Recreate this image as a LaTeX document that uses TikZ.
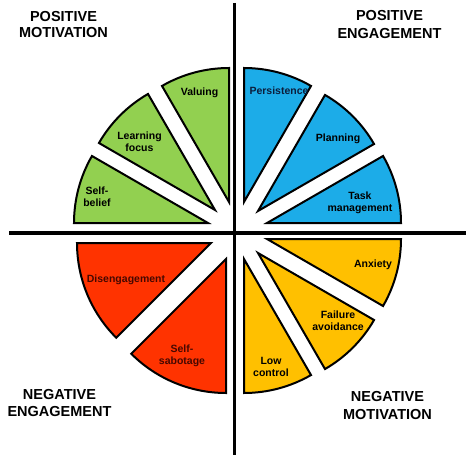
\documentclass[tikz,border=0pt]{standalone}
\usepackage{fontspec}
\setmainfont{Liberation Sans}
\definecolor{cgreen}{RGB}{146,208,80}
\definecolor{cblue}{RGB}{28,172,232}
\definecolor{cred}{RGB}{255,51,0}
\definecolor{corange}{RGB}{255,192,0}
\definecolor{tnavy}{RGB}{12,30,60}
\definecolor{tmaroon}{RGB}{70,8,0}
\newcommand\wedgeseg[6]{% name, colour, apex x, apex y, start, end
  \coordinate (#1) at (#3,#4);
  \filldraw[seg, fill=#2] (#1) -- ++(#5:134) arc[start angle=#5, end angle=#6, radius=134] -- cycle;}
\begin{document}
\begin{tikzpicture}[x=1pt,y=1pt,
  seg/.style={draw=black, line width=2pt, line join=miter},
  lab/.style={font=\bfseries\fontsize{10.5}{12}\selectfont, align=center, inner sep=0pt},
  head/.style={font=\bfseries\fontsize{14.5}{16.5}\selectfont, align=center, inner sep=0pt},
  axisline/.style={line width=3.3pt}]
\useasboundingbox (0,0) rectangle (474,459);
% axes
\coordinate (vtop) at (234.5,456);
\coordinate (vbot) at (234.5,4);
\coordinate (hl) at (9,226);
\coordinate (hr) at (466,226);
\draw[axisline] (vtop) -- (vbot);
\draw[axisline] (hl) -- (hr);
% green
\wedgeseg{valA}{cgreen}{229}{257}{90}{120}
\wedgeseg{lfA}{cgreen}{215}{249}{120}{150}
\wedgeseg{sbA}{cgreen}{208}{236}{150}{180}
% blue
\wedgeseg{peA}{cblue}{244}{257}{60}{90}
\wedgeseg{plA}{cblue}{258}{248}{30}{60}
\wedgeseg{tmA}{cblue}{267}{236}{0}{30}
% red
\wedgeseg{deA}{cred}{211}{216}{180}{225}
\wedgeseg{ssA}{cred}{226}{200}{225}{270}
% orange
\wedgeseg{lcA}{corange}{244}{200}{270}{300}
\wedgeseg{faA}{corange}{258}{206}{300}{330}
\wedgeseg{anA}{corange}{267}{220}{330}{360}
% labels
\node[lab] (val) at (199.5,366) {Valuing};
\node[lab] (lf) at (139.5,317.5) {Learning\\focus};
\node[lab] (sb) at (97,262) {Self-\\belief};
\node[lab, text=tnavy] (pe) at (279,368) {Persistence};
\node[lab] (pl) at (338,320) {Planning};
\node[lab] (tm) at (360,256) {Task\\management};
\node[lab, text=tmaroon] (de) at (126,179) {Disengagement};
\node[lab, text=tmaroon] (ss) at (182,103) {Self-\\sabotage};
\node[lab] (an) at (373,194) {Anxiety};
\node[lab] (fa) at (338,138) {Failure\\avoidance};
\node[lab] (lc) at (271,92) {Low\\control};
% headers
\node[head] (pm) at (63.5,434.5) {POSITIVE\\MOTIVATION};
\node[head, font=\bfseries\fontsize{14.5}{18}\selectfont] (pg) at (389.5,434.5) {POSITIVE\\ENGAGEMENT};
\node[head, font=\bfseries\fontsize{14.5}{17}\selectfont] (ng) at (59.5,55.5) {NEGATIVE\\ENGAGEMENT};
\node[head, font=\bfseries\fontsize{14.5}{18}\selectfont] (nm) at (387.5,53) {NEGATIVE\\MOTIVATION};
\end{tikzpicture}
\end{document}
